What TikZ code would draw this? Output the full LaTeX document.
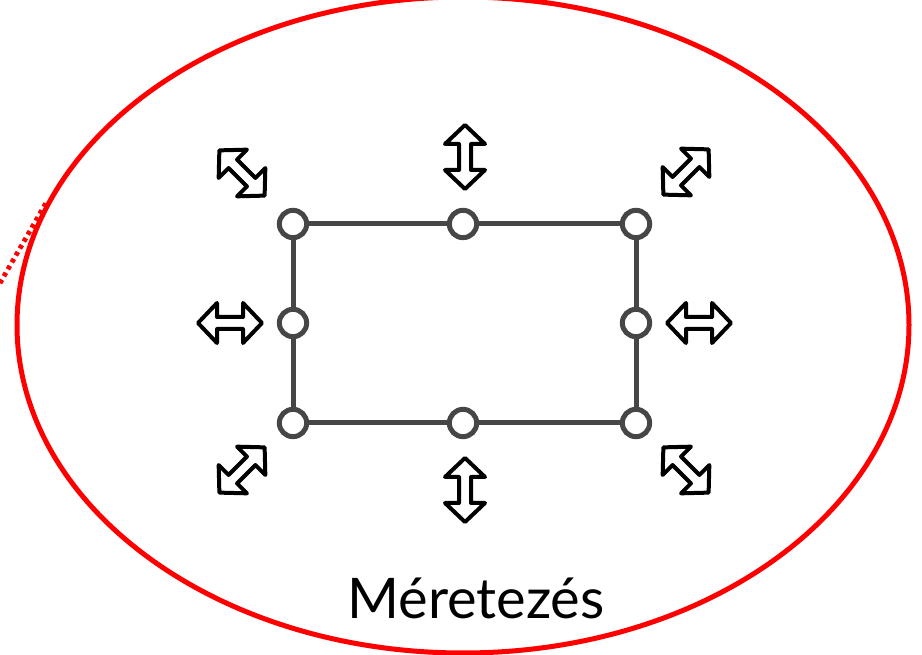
\documentclass[tikz,border=0pt]{standalone}
\usepackage{fontspec}
\setmainfont{Lato}
\usetikzlibrary{positioning}

\tikzset{
  handle/.style={circle,draw=handlegray,fill=white,line width=3.75pt,
                 minimum size=20.5pt,inner sep=0pt},
  frame/.style={draw=handlegray,line width=3.75pt},
  resizearrow/.style={draw=black,fill=white,line width=3pt,line join=round}
}
\definecolor{handlegray}{RGB}{70,70,70}

% dupla nyil (keret-atmeretezo jel), kozeppont + elforgatas
\newcommand{\dblarrow}[2]{%
  \draw[resizearrow,shift={#1},rotate=#2]
    (-32,0)--(-13,20)--(-13,6)--(13,6)--(13,20)--(32,0)
    --(13,-20)--(13,-6)--(-13,-6)--(-13,-20)--cycle;}

\begin{document}
\begin{tikzpicture}[x=0.75pt,y=-0.75pt]

  \clip (0,0) rectangle (922,655);

  \begin{scope}   % piros ellipszis es a pontozott vonal

    \draw[red,line width=3.6pt,dash pattern=on 3pt off 3pt]
      (-12,304)--(46,203);
    \draw[red,line width=3.75pt] (463,325) ellipse (446 and 328);

  \end{scope}

  \begin{scope}   % keret a fogantyukkal

    \def\Lx{293};
    \def\Rx{636};
    \def\Mx{463};
    \def\Ty{224};
    \def\By{423};
    \def\My{323};

    \coordinate (TL) at (\Lx,\Ty);
    \coordinate (TR) at (\Rx,\Ty);
    \coordinate (BL) at (\Lx,\By);
    \coordinate (BR) at (\Rx,\By);

    \draw[frame] (TL)--(TR)--(BR)--(BL)--cycle;

    \node[handle] (hTL) at (TL) {};
    \node[handle] (hT)  at (\Mx,\Ty) {};
    \node[handle] (hTR) at (TR) {};
    \node[handle] (hL)  at (\Lx,\My) {};
    \node[handle] (hR)  at (\Rx,\My) {};
    \node[handle] (hBL) at (BL) {};
    \node[handle] (hB)  at (\Mx,\By) {};
    \node[handle] (hBR) at (BR) {};

    \dblarrow{(465,157)}{90};
    \dblarrow{(465,490)}{90};
    \dblarrow{(230,323)}{0};
    \dblarrow{(699,323)}{0};
    \dblarrow{(242,173)}{-45};
    \dblarrow{(686,470)}{-45};
    \dblarrow{(686,172)}{45};
    \dblarrow{(242,470)}{45};

  \end{scope}

  \node (title) at (476,598) {\fontsize{42pt}{48pt}\selectfont Méretezés};

\end{tikzpicture}
\end{document}
